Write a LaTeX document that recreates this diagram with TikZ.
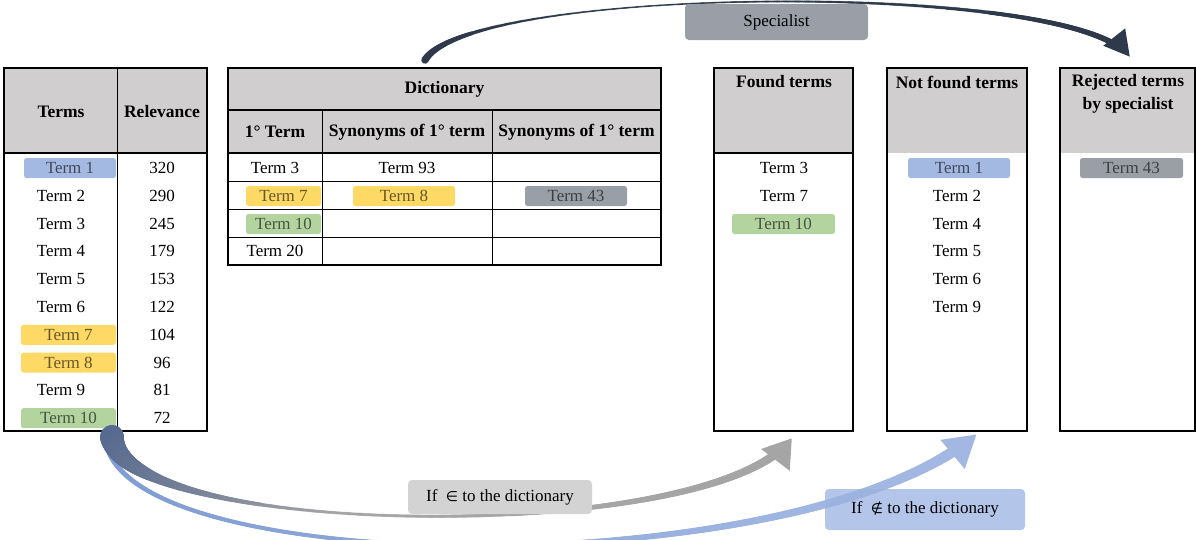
\documentclass[tikz,border=0pt]{standalone}
\usepackage{fontspec}
\setmainfont{Liberation Serif}
\newfontfamily\symbfont{DejaVu Sans}
\usetikzlibrary{positioning, calc, arrows.meta, decorations.markings}

\definecolor{headgray}{HTML}{D0CECE}
\definecolor{hlblue}{HTML}{A3B9E2}
\definecolor{hlyellow}{HTML}{FFD966}
\definecolor{hlgreen}{HTML}{B3D49F}
\definecolor{hlgray}{HTML}{9A9FA7}
\definecolor{navy}{HTML}{2E3A4B}
\definecolor{slateblue}{HTML}{56698F}
\definecolor{arrowgray}{HTML}{A5A5A5}
\definecolor{arrowblueA}{HTML}{7F9BD2}
\definecolor{arrowblueB}{HTML}{A2B8E3}
\definecolor{labelgray}{HTML}{D3D3D3}
\definecolor{labelblue}{HTML}{9AB2E0}

\tikzset{
%tapered, shaded ribbon with a head at its end:
%#1 start colour, #2 end colour, #3 extra start radius, #4 base radius, #5 end growth, #6 mix rate,
%#7 head length, #8 head half width
Ribbon/.style n args={8}{
postaction={decorate, decoration={
markings,
mark=between positions 0 and 0.97 step 0.0015 with {
\pgfmathsetmacro\rt{0.0015*\pgfkeysvalueof{/pgf/decoration/mark info/sequence number}}
\pgfmathtruncatemacro\rmix{min(100,\rt*#6)}
\pgfmathsetmacro\rrad{#3*exp(-12*\rt)+#4+#5*\rt*\rt*\rt}
\fill[#2!\rmix!#1] (0,0) circle (\rrad pt);
}
}},
postaction={decorate, decoration={
markings,
mark=at position 0.998 with {
\fill[#2] (1pt,0pt) -- (-#7pt,#8pt) -- (-#7pt,-#8pt) -- cycle;
}
}}
}
}

\begin{document}
\begin{tikzpicture}[x=1pt, y=-1pt,
			cell/.style = {font=\fontsize{17}{20}\selectfont, inner sep=0pt},
			head/.style = {font=\bfseries\fontsize{17.5}{23}\selectfont, inner sep=0pt, align=center},
			hlbox/.style = {cell, fill=#1, text=#1!40!black, rounded corners=2.5pt, minimum width=95pt, minimum height=20pt},
			frame/.style = {line width=2pt},
			grid/.style = {line width=1pt},
			tag/.style = {font=\fontsize{17}{20}\selectfont, rounded corners=4pt, inner sep=0pt},
		]

		\useasboundingbox (0,0) rectangle (1196,539);

		% terms and relevance
		\fill[headgray] (4,68) rectangle (207,153);
		\draw[frame] (4,68) rectangle (207,431);
		\draw[frame] (4,153) -- (207,153);
		\draw[grid] (117,68) -- (117,431);
		\node[head](termsH) at (61,112){Terms};
		\node[head](relH) at (162,112){Relevance};
		\foreach \n/\v [count=\i from 0] in {1/320, 2/290, 3/245, 4/179, 5/153, 6/122, 7/104, 8/96, 9/81, 10/72}
			\node[cell](r\n) at (162,{168+27.8*\i}){\v};
		\foreach \n/\i in {2/1, 3/2, 4/3, 5/4, 6/5, 9/8}
			\node[cell](t\n) at (61,{168+27.8*\i}){Term \n};
		\node[hlbox=hlblue, minimum width=92pt](t1) at (70,168){Term 1};
		\node[hlbox=hlyellow](t7) at (68.5,{168+27.8*6}){Term 7};
		\node[hlbox=hlyellow](t8) at (68.5,{168+27.8*7}){Term 8};
		\node[hlbox=hlgreen](t10) at (68.5,{168+27.8*9}){Term 10};

		% dictionary
		\fill[headgray] (228,68) rectangle (661,153);
		\draw[frame] (228,68) rectangle (661,265);
		\draw[frame] (228,110) -- (661,110);
		\draw[frame] (228,153) -- (661,153);
		\foreach \y in {181, 209, 237}
			\draw[grid] (228,\y) -- (661,\y);
		\foreach \x in {322, 492}
			\draw[grid] (\x,110) -- (\x,265);
		\node[head](dictH) at (444.5,89){Dictionary};
		\node[head](firstH) at (275,132){1° Term};
		\node[head](synA) at (407,132){Synonyms of 1° term};
		\node[head](synB) at (576.5,132){Synonyms of 1° term};
		\node[cell](d3) at (275,168){Term 3};
		\node[cell](d93) at (407,168){Term 93};
		\node[hlbox=hlyellow, minimum width=75pt](d7) at (283.5,196){Term 7};
		\node[hlbox=hlyellow, minimum width=102pt](d8) at (404,196){Term 8};
		\node[hlbox=hlgray, minimum width=102pt](d43) at (576,196){Term 43};
		\node[hlbox=hlgreen, minimum width=75pt](d10) at (283.5,224){Term 10};
		\node[cell](d20) at (275,251){Term 20};

		% found terms
		\fill[headgray] (714,68) rectangle (853,153);
		\draw[frame] (714,68) rectangle (853,431);
		\draw[frame] (714,153) -- (853,153);
		\node[head](foundH) at (784,82){Found terms};
		\node[cell](f3) at (784,168){Term 3};
		\node[cell](f7) at (784,196){Term 7};
		\node[hlbox=hlgreen, minimum width=103pt](f10) at (783.5,224){Term 10};

		% not found terms
		\fill[headgray] (887,68) rectangle (1027,153);
		\draw[frame] (887,68) rectangle (1027,431);
		\node[head](notH) at (957,82){Not found terms};
		\node[hlbox=hlblue, minimum width=102pt](n1) at (959,168){Term 1};
		\foreach \n/\i in {2/1, 4/2, 5/3, 6/4, 9/5}
			\node[cell](n\n) at (957,{168+27.8*\i}){Term \n};

		% rejected terms
		\fill[headgray] (1060,68) rectangle (1195,153);
		\draw[frame] (1060,68) rectangle (1195,431);
		\node[head](rejH) at (1128,94){Rejected terms\\by specialist};
		\node[hlbox=hlgray, minimum width=103pt](j43) at (1131.5,168){Term 43};

		% arrows
		\coordinate(dictTop) at (425,60);
		\coordinate(rejTop) at (1130,57);
		\coordinate(termsBotA) at (112,437);
		\coordinate(termsBotB) at (106,437);
		\coordinate(foundBot) at (792,438);
		\coordinate(notBot) at (977,434);

		\path[Ribbon={navy}{navy}{3}{0.8}{2.5}{0}{24}{14}]
			(dictTop) .. controls (470,-15) and (1075,-20) .. (rejTop);
		\path[Ribbon={arrowblueA}{arrowblueB}{1}{2}{4}{120}{30}{19}]
			(termsBotB) .. controls (110,580) and (800,585) .. (notBot);
		\path[Ribbon={slateblue}{arrowgray}{11}{1.3}{3.5}{300}{26}{18}]
			(termsBotA) .. controls (125,540) and (715,545) .. (foundBot);

		\node[tag, fill=hlgray, minimum width=183pt, minimum height=36pt](spec) at (776.5,22){Specialist};
		\node[tag, fill=labelgray, minimum width=184pt, minimum height=34pt](inLbl) at (500,497){If\enspace{\symbfont\fontsize{14}{17}\selectfont ∈} to the dictionary};
		\node[tag, fill=labelblue, fill opacity=0.75, text opacity=1, minimum width=200pt, minimum height=41pt](outLbl) at (925,509.5){If\enspace{\symbfont\fontsize{14}{17}\selectfont ∉} to the dictionary};

	\end{tikzpicture}
\end{document}
